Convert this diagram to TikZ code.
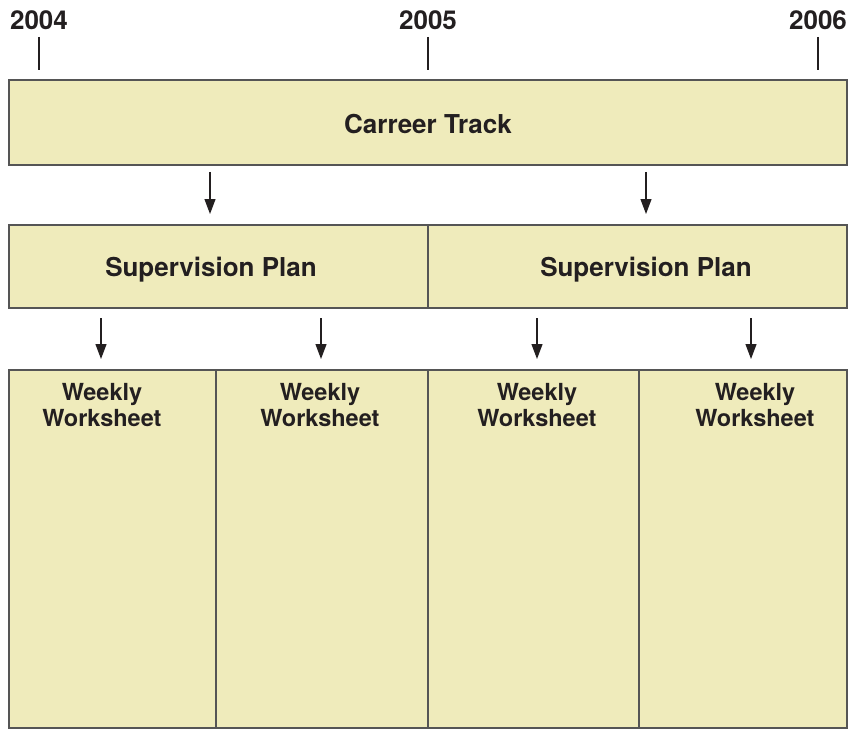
\documentclass[tikz,border=0pt]{standalone}
\usepackage{fontspec}
\setmainfont{TeX Gyre Heros}
\usetikzlibrary{arrows.meta}
\definecolor{boxfill}{HTML}{EFEBBB}
\definecolor{boxline}{HTML}{555555}
\definecolor{txt}{HTML}{231F20}
\begin{document}
\begin{tikzpicture}[x=1pt,y=-1pt,
  box/.style={draw=boxline, fill=boxfill, line width=1.4pt},
  lbl/.style={font=\fontsize{26}{30}\selectfont\bfseries, text=txt, inner sep=0pt},
  wlbl/.style={font=\fontsize{23.5}{26}\selectfont\bfseries, text=txt, inner sep=0pt, align=center},
  tick/.style={draw=txt, line width=1.1pt},
  arr/.style={draw=txt, line width=1.2pt, -{Triangle[length=15pt,width=11pt]}}]
\useasboundingbox (0,0) rectangle (853,738);
% top box
\draw[box] (9,80) rectangle (847,165);
\node[lbl] (ct) at (428,124) {Carreer Track};
% years
\node[lbl] (y4) at (39,20) {2004};
\node[lbl] (y5) at (428,20) {2005};
\node[lbl] (y6) at (818,20) {2006};
\coordinate (t4a) at (39,37); \coordinate (t4b) at (39,70);
\coordinate (t5a) at (428,37); \coordinate (t5b) at (428,70);
\coordinate (t6a) at (818,37); \coordinate (t6b) at (818,70);
\draw[tick] (t4a) -- (t4b);
\draw[tick] (t5a) -- (t5b);
\draw[tick] (t6a) -- (t6b);
% middle boxes
\draw[box] (9,225) rectangle (428,308);
\draw[box] (428,225) rectangle (847,308);
\node[lbl] (sp1) at (211,270) {Supervision Plan};
\node[lbl] (sp2) at (646,270) {Supervision Plan};
% bottom boxes
\draw[box] (9,370) rectangle (216,728);
\draw[box] (216,370) rectangle (428,728);
\draw[box] (428,370) rectangle (639,728);
\draw[box] (639,370) rectangle (847,728);
\node[wlbl, anchor=north] (w1) at (102,383) {Weekly\\Worksheet};
\node[wlbl, anchor=north] (w2) at (320,383) {Weekly\\Worksheet};
\node[wlbl, anchor=north] (w3) at (537,383) {Weekly\\Worksheet};
\node[wlbl, anchor=north] (w4) at (755,383) {Weekly\\Worksheet};
% arrows
\coordinate (a1s) at (210,172); \coordinate (a1e) at (210,214);
\coordinate (a2s) at (646,172); \coordinate (a2e) at (646,214);
\draw[arr] (a1s) -- (a1e);
\draw[arr] (a2s) -- (a2e);
\coordinate (b1s) at (101,318); \coordinate (b1e) at (101,359);
\coordinate (b2s) at (321,318); \coordinate (b2e) at (321,359);
\coordinate (b3s) at (537,318); \coordinate (b3e) at (537,359);
\coordinate (b4s) at (751,318); \coordinate (b4e) at (751,359);
\draw[arr] (b1s) -- (b1e);
\draw[arr] (b2s) -- (b2e);
\draw[arr] (b3s) -- (b3e);
\draw[arr] (b4s) -- (b4e);
\end{tikzpicture}
\end{document}
